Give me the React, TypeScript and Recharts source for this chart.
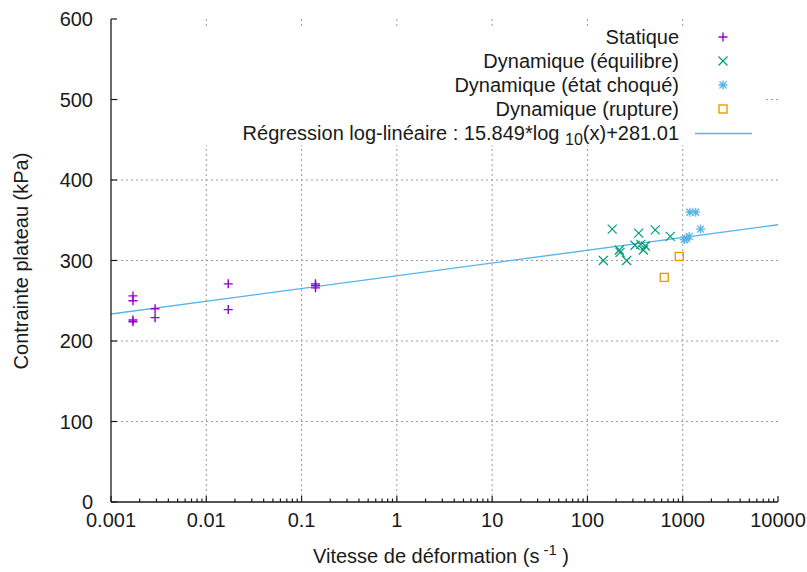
import React from 'react';
import { ComposedChart, Scatter, Line, XAxis, YAxis, CartesianGrid } from 'recharts';

// points: x = strain rate (1/s), y = plateau stress (kPa)
const statique = [
  { x: 0.0017, y: 256 },
  { x: 0.0017, y: 250 },
  { x: 0.0017, y: 226 },
  { x: 0.0017, y: 224 },
  { x: 0.0029, y: 240 },
  { x: 0.0029, y: 229 },
  { x: 0.017, y: 271 },
  { x: 0.017, y: 239 },
  { x: 0.14, y: 271 },
  { x: 0.14, y: 269 },
  { x: 0.14, y: 266 },
];

const equilibre = [
  { x: 182, y: 339 },
  { x: 345, y: 334 },
  { x: 515, y: 338 },
  { x: 740, y: 330 },
  { x: 316, y: 319 },
  { x: 362, y: 320 },
  { x: 405, y: 318 },
  { x: 386, y: 313 },
  { x: 216, y: 313 },
  { x: 220, y: 310 },
  { x: 147, y: 300 },
  { x: 258, y: 300 },
];

const etatChoque = [
  { x: 1190, y: 360 },
  { x: 1370, y: 360 },
  { x: 1540, y: 339 },
  { x: 1040, y: 326 },
  { x: 1100, y: 327 },
  { x: 1170, y: 330 },
];

const rupture = [
  { x: 920, y: 305 },
  { x: 640, y: 279 },
];

// 15.849*log10(x)+281.01 at both ends of the axis
const regression = [
  { x: 0.001, y: 233.46 },
  { x: 10000, y: 344.41 },
];

const X_MAJOR = [0.001, 0.01, 0.1, 1, 10, 100, 1000, 10000];
const X_LABELS = ['0.001', '0.01', '0.1', '1', '10', '100', '1000', '10000'];
const X_MINOR = X_MAJOR.slice(0, -1).flatMap((d) => [2, 3, 4, 5, 6, 7, 8, 9].map((k) => d * k));
const X_TICKS = [...X_MAJOR, ...X_MINOR].sort((a, b) => a - b);
const Y_TICKS = [0, 100, 200, 300, 400, 500, 600];

const PURPLE = '#9400D3';
const GREEN = '#009E73';
const CYAN = '#56B4E9';
const ORANGE = '#E69F00';
const INK = '#1a1a1a';
const FONT = '"Liberation Sans", Arial, sans-serif';
const FS = 20;

const plusPath = (cx: number, cy: number, r: number) => `M${cx - r},${cy}H${cx + r}M${cx},${cy - r}V${cy + r}`;
const crossPath = (cx: number, cy: number, r: number) =>
  `M${cx - r},${cy - r}L${cx + r},${cy + r}M${cx - r},${cy + r}L${cx + r},${cy - r}`;

const PlusShape = ({ cx, cy }: any) => <path d={plusPath(cx, cy, 4.5)} stroke={PURPLE} strokeWidth={1.4} fill="none" />;
const CrossShape = ({ cx, cy }: any) => <path d={crossPath(cx, cy, 4.5)} stroke={GREEN} strokeWidth={1.2} fill="none" />;
const StarShape = ({ cx, cy }: any) => (
  <path d={plusPath(cx, cy, 4.5) + crossPath(cx, cy, 3.5)} stroke={CYAN} strokeWidth={1.3} fill="none" />
);
const SquareShape = ({ cx, cy }: any) => (
  <rect x={cx - 4} y={cy - 4} width={8} height={8} stroke={ORANGE} strokeWidth={1.4} fill="none" />
);

const tickLen = (v: number) => (X_MAJOR.includes(v) ? 6 : 3.5);

const BottomTick = ({ x, y, payload }: any) => {
  const i = X_MAJOR.indexOf(payload.value);
  return (
    <g>
      <line x1={x} x2={x} y1={y} y2={y - tickLen(payload.value)} stroke={INK} strokeWidth={1.2} />
      {i >= 0 && (
        <text x={x} y={y + 25} textAnchor="middle" fontSize={FS} fontFamily={FONT} fill={INK}>
          {X_LABELS[i]}
        </text>
      )}
    </g>
  );
};

const TopTick = ({ x, y, payload }: any) => (
  <line x1={x} x2={x} y1={y} y2={y + tickLen(payload.value)} stroke={INK} strokeWidth={1.2} />
);

const LeftTick = ({ x, y, payload }: any) => (
  <g>
    <line x1={x} x2={x + 6} y1={y} y2={y} stroke={INK} strokeWidth={1.2} />
    <text x={x - 18} y={y + 7} textAnchor="end" fontSize={FS} fontFamily={FONT} fill={INK}>
      {payload.value}
    </text>
  </g>
);

const RightTick = ({ x, y }: any) => <line x1={x} x2={x - 6} y1={y} y2={y} stroke={INK} strokeWidth={1.2} />;

const LEGEND = [
  { label: 'Statique', shape: 'plus' },
  { label: 'Dynamique (équilibre)', shape: 'cross' },
  { label: 'Dynamique (état choqué)', shape: 'star' },
  { label: 'Dynamique (rupture)', shape: 'square' },
];

// key entries, in page pixels (the white box under them hides the grid)
const KeyEntries = () => (
  <g>
    {LEGEND.map((item, i) => {
      const cy = 37 + i * 24;
      return (
        <g key={item.label}>
          <text x={679} y={cy + 7} textAnchor="end" fontSize={FS} fontFamily={FONT} fill={INK}>
            {item.label}
          </text>
          {item.shape === 'plus' && <PlusShape cx={723} cy={cy} />}
          {item.shape === 'cross' && <CrossShape cx={723} cy={cy} />}
          {item.shape === 'star' && <StarShape cx={723} cy={cy} />}
          {item.shape === 'square' && <SquareShape cx={723} cy={cy} />}
        </g>
      );
    })}
    <text x={679} y={140} textAnchor="end" fontSize={FS} fontFamily={FONT} fill={INK}>
      Régression log-linéaire : 15.849*log{' '}
      <tspan dy={5} fontSize={16}>10</tspan>
      <tspan dy={-5}>(x)+281.01</tspan>
    </text>
    <line x1={695} x2={752} y1={133.5} y2={133.5} stroke={CYAN} strokeWidth={1.5} />
  </g>
);

export default function App() {
  return (
    <div style={{ position: 'absolute', left: 0, top: 0, width: 807, height: 572, background: '#fff' }}>
      <ComposedChart width={807} height={572} margin={{ top: 19, right: 29, left: 0, bottom: 0 }}>
        <CartesianGrid
          stroke="#9a9a9a"
          strokeDasharray="2 3"
          verticalValues={[0.01, 0.1, 1, 10, 100, 1000]}
          horizontalValues={[100, 200, 300, 400, 500]}
        />
        <XAxis
          dataKey="x"
          type="number"
          scale="log"
          domain={[0.001, 10000]}
          allowDataOverflow
          ticks={X_TICKS}
          interval={0}
          height={70}
          tickSize={0}
          tickMargin={0}
          tickLine={false}
          tick={<BottomTick />}
          axisLine={{ stroke: INK, strokeWidth: 1.3 }}
        />
        <XAxis
          xAxisId="top"
          orientation="top"
          type="number"
          scale="log"
          domain={[0.001, 10000]}
          allowDataOverflow
          ticks={X_TICKS}
          interval={0}
          height={0}
          tickSize={0}
          tickMargin={0}
          tickLine={false}
          tick={<TopTick />}
          axisLine={{ stroke: INK, strokeWidth: 1.3 }}
        />
        <YAxis
          dataKey="y"
          type="number"
          domain={[0, 600]}
          allowDataOverflow
          ticks={Y_TICKS}
          interval={0}
          width={111}
          tickSize={0}
          tickMargin={0}
          tickLine={false}
          tick={<LeftTick />}
          axisLine={{ stroke: INK, strokeWidth: 1.3 }}
        />
        <YAxis
          yAxisId="right"
          orientation="right"
          type="number"
          domain={[0, 600]}
          allowDataOverflow
          ticks={Y_TICKS}
          interval={0}
          width={0}
          tickSize={0}
          tickMargin={0}
          tickLine={false}
          tick={<RightTick />}
          axisLine={{ stroke: INK, strokeWidth: 1.3 }}
        />
        <Line
          data={regression}
          dataKey="y"
          type="linear"
          stroke={CYAN}
          strokeWidth={1.4}
          dot={false}
          activeDot={false}
          isAnimationActive={false}
        />
        <Scatter data={statique} shape={<PlusShape />} isAnimationActive={false} />
        <Scatter data={equilibre} shape={<CrossShape />} isAnimationActive={false} />
        <Scatter data={etatChoque} shape={<StarShape />} isAnimationActive={false} />
        <Scatter data={rupture} shape={<SquareShape />} isAnimationActive={false} />
      </ComposedChart>
      <div style={{ position: 'absolute', left: 118, top: 26, width: 645, height: 119, background: '#fff' }} />
      <svg width={807} height={572} style={{ position: 'absolute', left: 0, top: 0, pointerEvents: 'none' }}>
        <KeyEntries />
        <text
          x={28}
          y={261}
          transform="rotate(-90, 28, 261)"
          textAnchor="middle"
          fontSize={FS}
          fontFamily={FONT}
          fill={INK}
        >
          Contrainte plateau (kPa)
        </text>
        <text x={441} y={563} textAnchor="middle" fontSize={FS} fontFamily={FONT} fill={INK}>
          Vitesse de déformation (s
          <tspan dx={4} dy={-8} fontSize={15}>-1</tspan>
          <tspan dy={8}> )</tspan>
        </text>
      </svg>
    </div>
  );
}
